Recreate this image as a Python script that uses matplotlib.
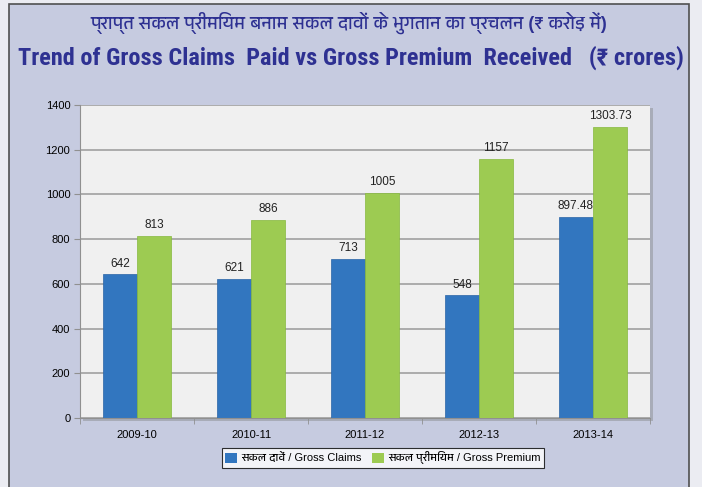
import numpy as np
import matplotlib.pyplot as plt
from matplotlib import font_manager
from matplotlib.patches import Rectangle, Patch

# Dados (₹ crores)
years = ['2009-10', '2010-11', '2011-12', '2012-13', '2013-14']
claims = [642, 621, 713, 548, 897.48]
premium = [813, 886, 1005, 1157, 1303.73]
claims_labels = ['642', '621', '713', '548', '897.48']
premium_labels = ['813', '886', '1005', '1157', '1303.73']
yticks = [0, 200, 400, 600, 800, 1000, 1200, 1400]

title_hi = 'प्राप्त सकल प्रीमियम बनाम सकल दावों के भुगतान का प्रचलन (₹ करोड़ में)'
title_en = 'Trend of Gross Claims  Paid vs Gross Premium  Received   (₹ crores)'
leg_claims = 'सकल दावें / Gross Claims'
leg_premium = 'सकल प्रीमियम / Gross Premium'

# procurar uma fonte com devanagari, se existir
fl = font_manager.fontManager.ttflist
names = sorted({f.name for f in fl})
deva = [n for n in names if any(k in n for k in ('Devanagari', 'Lohit', 'Mukta', 'Hind', 'Mangal', 'Gargi', 'Kalimati'))]
bold_names = {f.name for f in fl if f.weight in (600, 700, 800, 'bold', 'semibold')}
pref = ['Liberation Sans Narrow', 'Roboto Condensed', 'Arimo Narrow', 'Noto Sans Condensed']
narrow_bold = [n for n in pref if n in bold_names]
latin = ['Liberation Sans', 'DejaVu Sans']
mixed = ['Liberation Sans'] + deva[:1] + ['DejaVu Sans']
plt.rcParams['font.family'] = latin

navy = '#2e3192'
lav = '#c6cbe0'

fig = plt.figure(figsize=(7.02, 4.87), dpi=100)
fig.patch.set_facecolor('#ebecf2')

W, H = 702, 487
# painel lilás
fig.patches.append(Rectangle((9 / W, -0.01), 680 / W, (H - 4) / H + 0.01, transform=fig.transFigure,
                             facecolor=lav, edgecolor='#505050', linewidth=1.2, zorder=-5))
# sombra da área do gráfico
fig.patches.append(Rectangle((83 / W, (H - 421) / H), 570 / W, 313 / H, transform=fig.transFigure,
                             facecolor='#a8acb8', edgecolor='none', zorder=-4))

ax = fig.add_axes([80 / W, (H - 418) / H, 570 / W, 313 / H])
ax.set_zorder(2)
ax.set_facecolor('#f0f0f0')

x = np.arange(len(years))
w = 0.3
ax.bar(x - w / 2, claims, w, color='#3276bf', edgecolor='#2a64a6', linewidth=0.5, zorder=2)
ax.bar(x + w / 2, premium, w, color='#9dcb52', edgecolor='#86b83e', linewidth=0.5, zorder=4)

for xi, v, s in zip(x, claims, claims_labels):
    ax.text(xi - w / 2, v + 22, s, ha='center', va='bottom', fontsize=8.5, color='#222222', zorder=3)
for xi, v, s in zip(x, premium, premium_labels):
    ax.text(xi + w / 2, v + 22, s, ha='center', va='bottom', fontsize=8.5, color='#222222', zorder=5)

ax.set_ylim(0, 1400)
ax.set_xlim(-0.5, len(years) - 0.5)
ax.set_yticks(yticks)
ax.set_yticklabels([str(t) for t in yticks], fontsize=8)
ax.yaxis.grid(True, color='#a0a0a0', linewidth=1.2)
ax.set_axisbelow(True)

ax.set_xticks(x)
ax.set_xticklabels(years, fontsize=8)
ax.set_xticks(np.arange(len(years) + 1) - 0.5, minor=True)
ax.tick_params(axis='x', which='major', length=0, pad=9)
ax.tick_params(axis='x', which='minor', length=4, color='#909090')
ax.tick_params(axis='y', length=4, color='#909090', pad=3)

for side in ['top', 'right']:
    ax.spines[side].set_visible(False)
ax.spines['left'].set_color('#909090')
ax.spines['bottom'].set_color('#909090')

fig.text(0.497, (H - 23) / H, title_hi, ha='center', va='center', fontsize=13, color=navy, family=mixed,
         fontweight='bold')
fig.text(0.4995, (H - 58) / H, title_en, ha='center', va='center', fontsize=17.5, fontweight='bold', color=navy,
         family=narrow_bold[:1] + mixed)

handles = [Patch(facecolor='#3276bf', label=leg_claims), Patch(facecolor='#9dcb52', label=leg_premium)]
leg = fig.legend(handles=handles, loc='center', bbox_to_anchor=(383 / W, (H - 458) / H), ncol=2,
                 prop={'family': mixed, 'size': 8}, frameon=True, fancybox=False, handlelength=1.0,
                 handleheight=1.0, handletextpad=0.4, columnspacing=1.0, borderpad=0.3)
leg.get_frame().set_edgecolor('black')
leg.get_frame().set_linewidth(0.8)

fig.savefig('out.png', dpi=100, facecolor=fig.get_facecolor())
